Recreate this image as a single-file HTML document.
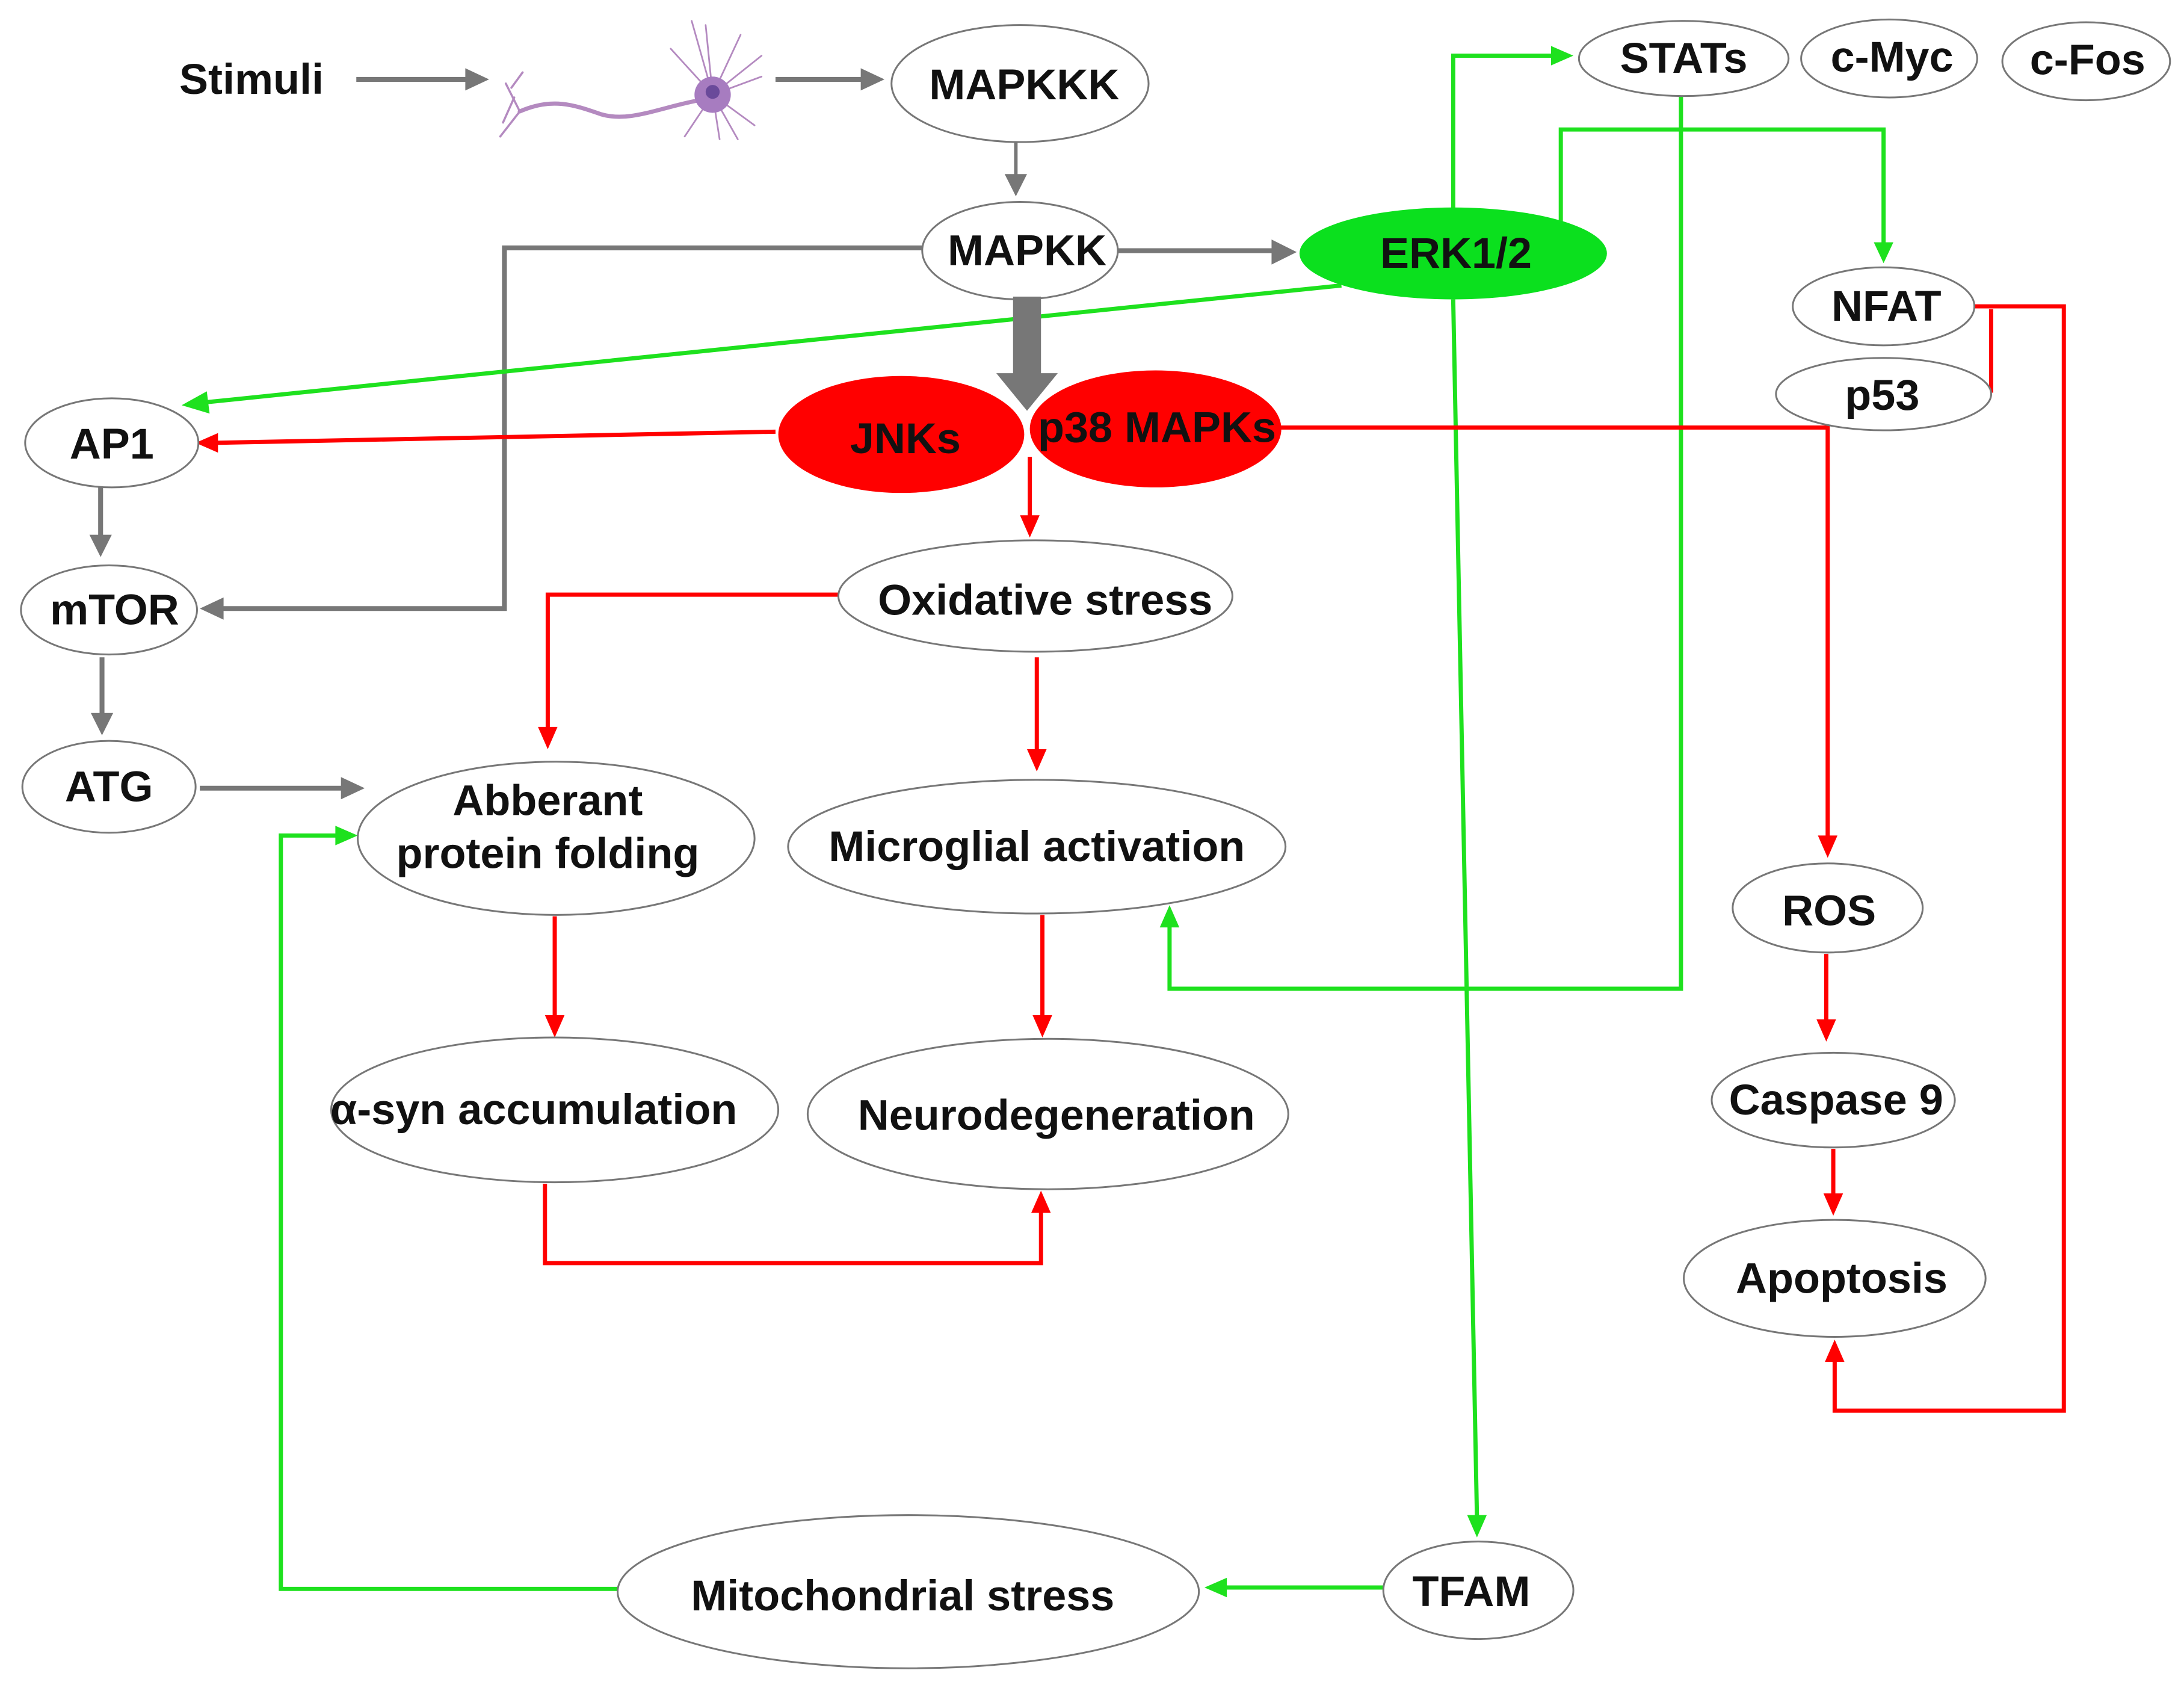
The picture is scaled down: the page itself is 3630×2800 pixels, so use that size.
<!DOCTYPE html>
<html><head><meta charset="utf-8"><style>html,body{margin:0;padding:0;background:#fff}svg{display:block}</style></head>
<body>
<svg width="3630" height="2800" viewBox="0 0 1563 1210" preserveAspectRatio="none" xmlns="http://www.w3.org/2000/svg">
<style>
text{font-family:"Liberation Sans",sans-serif;font-weight:bold;font-size:31px;fill:#111;text-anchor:middle;dominant-baseline:central}
.e{fill:#fff;stroke:#777;stroke-width:1.3}
.g{stroke:#777;stroke-width:3.5;fill:none}
.gr{stroke:#1ee11e;stroke-width:3;fill:none}
.r{stroke:#f00;stroke-width:3;fill:none}
</style>
<!-- gray connectors -->
<path class="g" d="M255,57 H335"/><path d="M333,49 L350,57 L333,65z" fill="#777"/>
<path class="g" d="M555,57 H618"/><path d="M616,49 L633,57 L616,65z" fill="#777"/>
<path class="g" d="M727,98 V128" style="stroke-width:2.5"/><path d="M719,125 L727,141 L735,125z" fill="#777"/>
<path class="g" d="M800,180 H912"/><path d="M910,172 L928,181 L910,190z" fill="#777"/>
<path class="g" d="M660,178 H361 V437 H158"/><path d="M160,429 L143,437 L160,445z" fill="#777"/>
<path class="g" d="M72,350 V386"/><path d="M64,384 L72,400 L80,384z" fill="#777"/>
<path class="g" d="M73,472 V514"/><path d="M65,512 L73,528 L81,512z" fill="#777"/>
<path class="g" d="M143,566 H246"/><path d="M244,558 L261,566 L244,574z" fill="#777"/>
<!-- green -->
<path class="gr" d="M960,205 L146,289"/><path d="M148,281 L130,291 L150,297z" fill="#1ee11e"/>
<path class="gr" d="M1040,150 V40 H1112"/><path d="M1110,33 L1126,40 L1110,47z" fill="#1ee11e"/>
<path class="gr" d="M1117,160 V93 H1348 V176"/><path d="M1341,174 L1348,189 L1355,174z" fill="#1ee11e"/>
<path class="gr" d="M1040,215 L1057,1090"/><path d="M1050,1088 L1057,1104 L1064,1088z" fill="#1ee11e"/>
<path class="gr" d="M1203,68 V710 H837 V664"/><path d="M830,666 L837,650 L844,666z" fill="#1ee11e"/>
<path class="gr" d="M990,1140 H876"/><path d="M878,1133 L862,1140 L878,1147z" fill="#1ee11e"/>
<path class="gr" d="M443,1141 H201 V600 H242"/><path d="M240,593 L256,600 L240,607z" fill="#1ee11e"/>
<!-- red -->
<path class="r" d="M555,310 L154,318"/><path d="M156,311 L140,318 L156,325z" fill="#f00"/>
<path class="r" d="M915,307 H1308 V602"/><path d="M1301,600 L1308,616 L1315,600z" fill="#f00"/>
<path class="r" d="M737,328 V372"/><path d="M730,370 L737,386 L744,370z" fill="#f00"/>
<path class="r" d="M600,427 H392 V524"/><path d="M385,522 L392,538 L399,522z" fill="#f00"/>
<path class="r" d="M742,472 V540"/><path d="M735,538 L742,554 L749,538z" fill="#f00"/>
<path class="r" d="M397,658 V731"/><path d="M390,729 L397,745 L404,729z" fill="#f00"/>
<path class="r" d="M746,657 V731"/><path d="M739,729 L746,745 L753,729z" fill="#f00"/>
<path class="r" d="M390,850 V907 H745 V869"/><path d="M738,871 L745,855 L752,871z" fill="#f00"/>
<path class="r" d="M1307,685 V734"/><path d="M1300,732 L1307,748 L1314,732z" fill="#f00"/>
<path class="r" d="M1312,825 V859"/><path d="M1305,857 L1312,873 L1319,857z" fill="#f00"/>
<path class="r" d="M1413,220 H1477 V1013 H1313 V976"/><path d="M1306,978 L1313,962 L1320,978z" fill="#f00"/>
<path class="r" d="M1425,222 V282"/>
<!-- neuron -->
<g stroke="#b48ac0" fill="none" stroke-width="3" stroke-linecap="round">
<path d="M372,80 C395,70 410,75 430,82 C450,88 470,78 500,72"/>
<path d="M372,80 L362,60 M372,80 L358,98 M368,70 L360,88 M366,63 L374,52" stroke-width="1.5"/>
<path d="M510,68 L505,18 M510,68 L530,25 M510,68 L545,55 M510,68 L540,90 M510,68 L515,100 M510,68 L490,98 M510,68 L480,35 M510,68 L545,40 M510,68 L495,15 M510,68 L528,100" stroke-width="1.2"/>
</g>
<circle cx="510" cy="68" r="13" fill="#a77cc0"/><circle cx="510" cy="66" r="5" fill="#6a4a9a"/>
<text x="180" y="57">Stimuli</text>
<!-- nodes -->
<ellipse class="e" cx="730" cy="60" rx="92" ry="42"/><text x="733" y="61">MAPKKK</text>
<ellipse class="e" cx="730" cy="180" rx="70" ry="35"/><text x="735" y="180">MAPKK</text>
<ellipse cx="1040" cy="182" rx="110" ry="33" fill="#0be01e"/><text x="1042" y="182">ERK1/2</text>
<ellipse class="e" cx="1205" cy="42" rx="75" ry="27"/><text x="1205" y="42">STATs</text>
<ellipse class="e" cx="1352" cy="42" rx="63" ry="28"/><text x="1354" y="41">c-Myc</text>
<ellipse class="e" cx="1493" cy="44" rx="60" ry="28"/><text x="1494" y="43">c-Fos</text>
<ellipse class="e" cx="1348" cy="220" rx="65" ry="28"/><text x="1350" y="220">NFAT</text>
<ellipse class="e" cx="1348" cy="283" rx="77" ry="26"/><text x="1347" y="284">p53</text>
<ellipse cx="645" cy="312" rx="88" ry="42" fill="#f00"/><text x="648" y="315">JNKs</text>
<ellipse cx="827" cy="308" rx="90" ry="42" fill="#f00"/><text x="828" y="307">p38 MAPKs</text>
<path d="M725,213 H745 V268 H757 L735,295 L713,268 H725z" fill="#777"/>
<ellipse class="e" cx="80" cy="318" rx="62" ry="32"/><text x="80" y="319">AP1</text>
<ellipse class="e" cx="78" cy="438" rx="63" ry="32"/><text x="82" y="438">mTOR</text>
<ellipse class="e" cx="78" cy="565" rx="62" ry="33"/><text x="78" y="565">ATG</text>
<ellipse class="e" cx="741" cy="428" rx="141" ry="40"/><text x="748" y="431">Oxidative stress</text>
<ellipse class="e" cx="398" cy="602" rx="142" ry="55"/><text x="392" y="575">Abberant</text><text x="392" y="613">protein folding</text>
<ellipse class="e" cx="742" cy="608" rx="178" ry="48"/><text x="742" y="608">Microglial activation</text>
<ellipse class="e" cx="1308" cy="652" rx="68" ry="32"/><text x="1309" y="654">ROS</text>
<ellipse class="e" cx="397" cy="797" rx="160" ry="52"/><text x="382" y="797">α-syn accumulation</text>
<ellipse class="e" cx="750" cy="800" rx="172" ry="54"/><text x="756" y="801">Neurodegeneration</text>
<ellipse class="e" cx="1312" cy="790" rx="87" ry="34"/><text x="1314" y="790">Caspase 9</text>
<ellipse class="e" cx="1313" cy="918" rx="108" ry="42"/><text x="1318" y="918">Apoptosis</text>
<ellipse class="e" cx="650" cy="1143" rx="208" ry="55"/><text x="646" y="1146">Mitochondrial stress</text>
<ellipse class="e" cx="1058" cy="1142" rx="68" ry="35"/><text x="1053" y="1143">TFAM</text>
</svg>
</body></html>
